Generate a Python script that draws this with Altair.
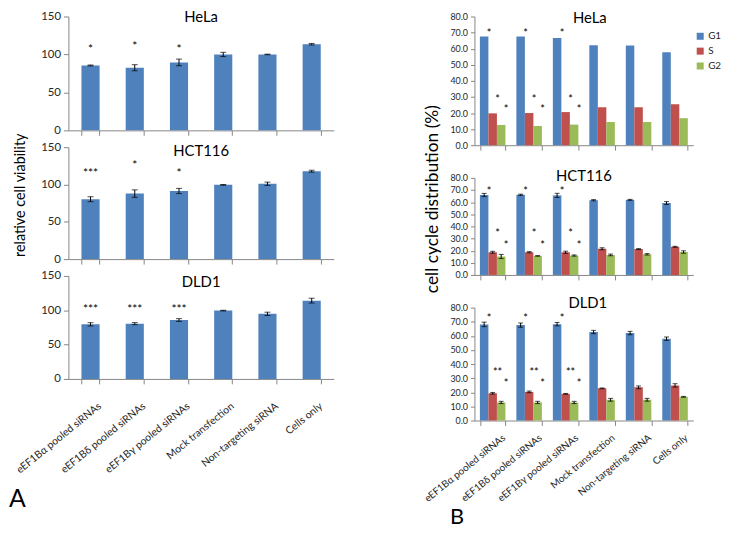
import altair as alt
import pandas as pd

FONT = "Lato"
BLUE, RED, GREEN = "#4F81BD", "#C0504D", "#9BBB59"
AXIS_GREY = "#868686"
LABEL_COL = "#262626"

categories = ["eEF1Bα pooled siRNAs", "eEF1Bδ pooled siRNAs", "eEF1Bγ pooled siRNAs",
              "Mock transfection", "Non-targeting siRNA", "Cells only"]
phases = ["G1", "S", "G2"]

# ---------------- Panel A: relative cell viability ----------------
hela_via = [85.5, 82.5, 89.5, 100.0, 100.0, 113.5]
hela_via_err = [0.6, 4.0, 4.4, 2.8, 0.4, 1.0]
hela_via_star = ["*", "*", "*", "", "", ""]
hela_via_star_lv = [111, 115, 111, 0, 0, 0]

hct_via = [80.3, 87.8, 91.3, 99.5, 101.0, 117.8]
hct_via_err = [3.3, 5.0, 3.5, 0.5, 2.2, 1.3]
hct_via_star = ["***", "*", "*", "", "", ""]
hct_via_star_lv = [120, 130, 120, 0, 0, 0]

dld_via = [79.5, 80.5, 85.8, 99.5, 94.8, 114.0]
dld_via_err = [2.4, 1.5, 2.0, 0.5, 2.4, 3.5]
dld_via_star = ["***", "***", "***", "", "", ""]
dld_via_star_lv = [106, 106, 106, 0, 0, 0]

# ---------------- Panel B: cell cycle distribution (%) ----------------
hela_g1 = [67.6, 67.6, 66.7, 62.1, 61.9, 57.7]
hela_s = [19.8, 20.0, 20.6, 23.6, 23.6, 25.5]
hela_g2 = [12.6, 12.0, 12.8, 14.5, 14.5, 16.8]
hela_stars = [["*", "*", "*", "", "", ""], ["*", "*", "*", "", "", ""], ["*", "*", "*", "", "", ""]]
hela_star_lv = [71, 30, 24]

hct_g1 = [65.9, 66.1, 65.6, 61.6, 61.9, 59.3]
hct_g1_err = [1.3, 0.5, 1.7, 0.5, 0.4, 1.2]
hct_s = [18.7, 18.7, 18.7, 21.6, 21.3, 23.2]
hct_s_err = [0.8, 0.5, 0.9, 0.8, 0.4, 0.4]
hct_g2 = [15.2, 15.7, 16.0, 16.5, 17.0, 18.9]
hct_g2_err = [1.7, 0.2, 0.5, 0.7, 0.6, 1.0]
hct_stars = [["*", "*", "*", "", "", ""], ["*", "*", "*", "", "", ""], ["*", "*", "*", "", "", ""]]
hct_star_lv = [71, 36, 26.6]

dld_g1 = [68.1, 67.6, 68.3, 62.7, 62.0, 58.0]
dld_g1_err = [1.6, 1.5, 1.2, 1.2, 1.2, 1.2]
dld_s = [19.3, 20.3, 18.9, 22.8, 23.5, 24.9]
dld_s_err = [0.6, 0.6, 0.3, 0.3, 1.0, 1.2]
dld_g2 = [12.8, 12.8, 12.8, 14.7, 14.7, 16.8]
dld_g2_err = [0.8, 0.8, 0.8, 1.0, 1.0, 0.3]
dld_stars = [["*", "*", "*", "", "", ""], ["**", "**", "**", "", "", ""], ["*", "*", "*", "", "", ""]]
dld_star_lv = [74, 36, 28]


def title_layer(name, width, ypos, dx=0):
    return alt.Chart(pd.DataFrame({"t": [name]})).mark_text(
        fontSize=15, font=FONT, color="black", baseline="middle", align="center", dx=dx
    ).encode(x=alt.value(width / 2), y=alt.value(ypos), text="t:N")


LW = 268
RW = 221


def viability_panel(name, vals, errs, stars, star_lv, height, bottom, title_y, ytitle=None):
    df = pd.DataFrame({
        "cat": categories, "v": vals,
        "lo": [a - b for a, b in zip(vals, errs)],
        "hi": [a + b for a, b in zip(vals, errs)],
        "star": stars, "lv": star_lv,
    })
    xaxis = alt.Axis(title=None, labels=bottom, labelAngle=-39, labelFontSize=10.5, labelFont=FONT,
                     labelColor=LABEL_COL, tickBand="extent", tickSize=5, tickColor=AXIS_GREY,
                     domainColor=AXIS_GREY, labelPadding=17, labelLimit=220, labelOffset=6)
    x = alt.X("cat:N", sort=categories, scale=alt.Scale(paddingInner=0.59, paddingOuter=0.295), axis=xaxis)
    ykw = dict(values=[0, 50, 100, 150], labelFontSize=11.5, labelFont=FONT, labelColor=LABEL_COL,
               tickSize=5, tickColor=AXIS_GREY, domainColor=AXIS_GREY, grid=False, labelPadding=3)
    if ytitle:
        ykw.update(title=ytitle, titleFontSize=14.5, titleFont=FONT, titleFontWeight="normal",
                   titleColor="black", titlePadding=13, titleY=48)
    else:
        ykw.update(title=None)
    yaxis = alt.Axis(**ykw)
    ysc = alt.Scale(domain=[0, 150], nice=False)
    base = alt.Chart(df).encode(x=x)
    bars = base.mark_bar(color=BLUE).encode(y=alt.Y("v:Q", scale=ysc, axis=yaxis))
    rule = base.mark_rule(color="black", strokeWidth=1).encode(
        y=alt.Y("lo:Q", scale=ysc, axis=yaxis), y2="hi:Q")
    cap_lo = base.mark_tick(color="black", thickness=1, size=6).encode(y=alt.Y("lo:Q", scale=ysc, axis=yaxis))
    cap_hi = base.mark_tick(color="black", thickness=1, size=6).encode(y=alt.Y("hi:Q", scale=ysc, axis=yaxis))
    txt = base.mark_text(fontSize=12, font=FONT, color="black", baseline="middle", dy=3).encode(
        y=alt.Y("lv:Q", scale=ysc, axis=yaxis), text="star:N")
    return alt.layer(bars, rule, cap_lo, cap_hi, txt, title_layer(name, LW, title_y)).properties(
        width=LW, height=height)


def cycle_panel(name, series, errors, stars, star_lv, height, bottom, title_y, legend=False,
                ytitle=None, dx=0):
    rows = []
    for pi, ph in enumerate(phases):
        for ci, c in enumerate(categories):
            v = series[pi][ci]
            e = errors[pi][ci] if errors else 0.0
            rows.append({"cat": c, "phase": ph, "v": v, "lo": v - e, "hi": v + e,
                         "star": stars[pi][ci], "lv": star_lv[pi]})
    df = pd.DataFrame(rows)
    xaxis = alt.Axis(title=None, labels=bottom, labelAngle=-39, labelFontSize=10, labelFont=FONT,
                     labelColor=LABEL_COL, tickBand="extent", tickSize=5, tickColor=AXIS_GREY,
                     domainColor=AXIS_GREY, labelPadding=7, labelLimit=220, labelOffset=8)
    x = alt.X("cat:N", sort=categories, scale=alt.Scale(paddingInner=0.3, paddingOuter=0.15), axis=xaxis)
    xo = alt.XOffset("phase:N", sort=phases, scale=alt.Scale(paddingInner=0, paddingOuter=0))
    ykw = dict(values=[0, 10, 20, 30, 40, 50, 60, 70, 80], format=".1f", labelFontSize=9,
               labelFont=FONT, labelColor=LABEL_COL, tickSize=4, tickColor=AXIS_GREY,
               domainColor=AXIS_GREY, grid=False, labelPadding=3)
    if ytitle:
        ykw.update(title=ytitle, titleFontSize=17.5, titleFont=FONT, titleFontWeight="normal",
                   titleColor="black", titlePadding=9, titleY=21)
    else:
        ykw.update(title=None)
    yaxis = alt.Axis(**ykw)
    ysc = alt.Scale(domain=[0, 80], nice=False)
    if legend:
        leg = alt.Legend(title=None, orient="none", legendX=223, legendY=15, symbolType="square",
                         symbolSize=50, symbolStrokeWidth=0, labelFont=FONT, labelFontSize=10,
                         labelColor=LABEL_COL, rowPadding=5, labelOffset=3)
    else:
        leg = None
    color = alt.Color("phase:N", sort=phases, scale=alt.Scale(domain=phases, range=[BLUE, RED, GREEN]),
                      legend=leg)
    base = alt.Chart(df).encode(x=x, xOffset=xo)
    layers = [base.mark_bar().encode(y=alt.Y("v:Q", scale=ysc, axis=yaxis), color=color)]
    if errors:
        layers.append(base.mark_rule(color="black", strokeWidth=1).encode(
            y=alt.Y("lo:Q", scale=ysc, axis=yaxis), y2="hi:Q"))
        layers.append(base.mark_tick(color="black", thickness=1, size=5).encode(
            y=alt.Y("lo:Q", scale=ysc, axis=yaxis)))
        layers.append(base.mark_tick(color="black", thickness=1, size=5).encode(
            y=alt.Y("hi:Q", scale=ysc, axis=yaxis)))
    layers.append(base.mark_text(fontSize=11, font=FONT, color="black", baseline="middle", dy=3, dx=5).encode(
        y=alt.Y("lv:Q", scale=ysc, axis=yaxis), text="star:N"))
    layers.append(title_layer(name, RW, title_y, dx))
    return alt.layer(*layers).properties(width=RW, height=height)


left = alt.vconcat(
    viability_panel("HeLa", hela_via, hela_via_err, hela_via_star, hela_via_star_lv, 115, False, 1),
    viability_panel("HCT116", hct_via, hct_via_err, hct_via_star, hct_via_star_lv, 113, False, 4,
                    "relative cell viability"),
    viability_panel("DLD1", dld_via, dld_via_err, dld_via_star, dld_via_star_lv, 104, True, 6),
    spacing=17, bounds="flush",
    title=alt.TitleParams("A", orient="bottom", anchor="start", fontSize=25, font=FONT,
                          fontWeight="normal", color="black", offset=12, dx=-4),
)

right = alt.vconcat(
    cycle_panel("HeLa", [hela_g1, hela_s, hela_g2], None, hela_stars, hela_star_lv, 130, False, 2,
                legend=True, dx=6),
    cycle_panel("HCT116", [hct_g1, hct_s, hct_g2], [hct_g1_err, hct_s_err, hct_g2_err], hct_stars,
                hct_star_lv, 98, False, -2, ytitle="cell cycle distribution (%)"),
    cycle_panel("DLD1", [dld_g1, dld_s, dld_g2], [dld_g1_err, dld_s_err, dld_g2_err], dld_stars,
                dld_star_lv, 114, True, -5, dx=4),
    spacing=33, bounds="flush",
    title=alt.TitleParams("B", orient="bottom", anchor="start", fontSize=22, font=FONT,
                          fontWeight="normal", color="black", offset=4, dx=28),
).resolve_scale(color="independent").resolve_legend(color="independent")

chart = alt.hconcat(left, right, spacing=89).resolve_scale(color="independent").properties(
    padding=0
).configure_view(stroke=None).configure_axis(grid=False)

chart.save("out.html", embed_options={"renderer": "svg", "actions": False})
